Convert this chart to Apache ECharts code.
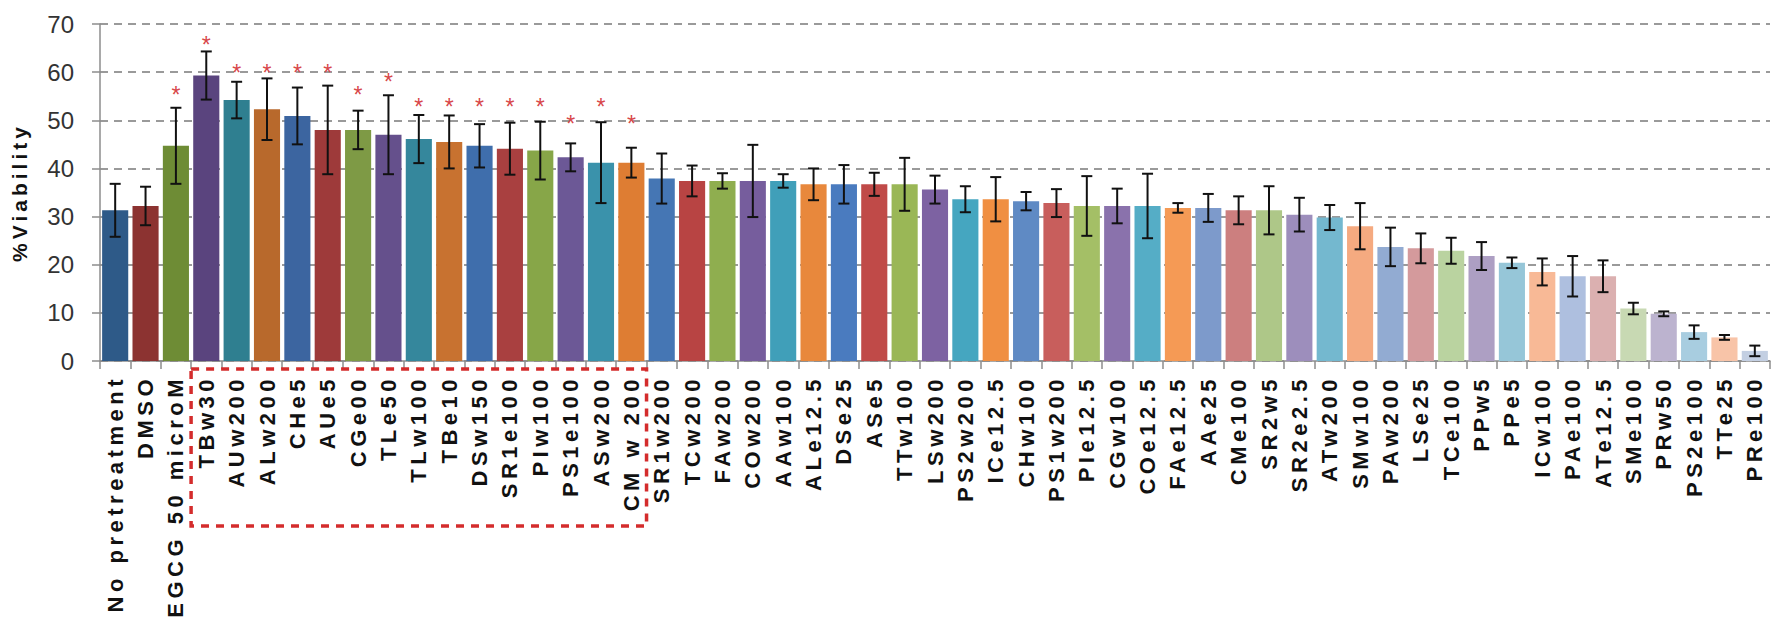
<!DOCTYPE html>
<html>
<head>
<meta charset="UTF-8">
<title>Viability</title>
<script src="https://cdn.jsdelivr.net/npm/echarts@6/dist/echarts.min.js"></script>
<style>
  /* spaced-out bold labels like the original figure */
  #main text[style*="22px"] { letter-spacing: 4.5px; }
  #main text[style*="21px"] { letter-spacing: 4px; }
</style>
</head>
<body style="margin: 0; background: #fff;">
<div id="main" style="width: 1776px; height: 637px;"></div>
<script>
var categories = ['No pretreatment', 'DMSO', 'EGCG 50 microM', 'TBw30', 'AUw200', 'ALw200', 'CHe5', 'AUe5',
  'CGe00', 'TLe50', 'TLw100', 'TBe10', 'DSw150', 'SR1e100', 'PIw100', 'PS1e100', 'ASw200', 'CM w 200',
  'SR1w200', 'TCw200', 'FAw200', 'COw200', 'AAw100', 'ALe12.5', 'DSe25', 'ASe5', 'TTw100', 'LSw200',
  'PS2w200', 'ICe12.5', 'CHw100', 'PS1w200', 'PIe12.5', 'CGw100', 'COe12.5', 'FAe12.5', 'AAe25', 'CMe100',
  'SR2w5', 'SR2e2.5', 'ATw200', 'SMw100', 'PAw200', 'LSe25', 'TCe100', 'PPw5', 'PPe5', 'ICw100', 'PAe100',
  'ATe12.5', 'SMe100', 'PRw50', 'PS2e100', 'TTe25', 'PRe100'];

var viability = [31.3, 32.2, 44.7, 59.3, 54.2, 52.3, 50.9, 48.0, 48.0, 47.0,
  46.1, 45.5, 44.7, 44.1, 43.7, 42.3, 41.2, 41.2, 37.9, 37.4,
  37.4, 37.4, 37.4, 36.7, 36.7, 36.7, 36.7, 35.6, 33.6, 33.6,
  33.2, 32.8, 32.2, 32.2, 32.2, 31.8, 31.8, 31.3, 31.3, 30.4,
  29.8, 28.0, 23.7, 23.4, 22.9, 21.8, 20.4, 18.5, 17.6, 17.6,
  10.9, 9.8, 6.0, 4.9, 2.1];

var errors = [5.5, 4.0, 7.9, 5.0, 3.8, 6.4, 5.9, 9.2, 4.0, 8.2,
  5.0, 5.5, 4.5, 5.4, 6.0, 2.9, 8.4, 3.1, 5.2, 3.2,
  1.6, 7.5, 1.4, 3.3, 4.0, 2.4, 5.5, 2.9, 2.7, 4.6,
  1.9, 2.9, 6.2, 3.6, 6.7, 1.0, 2.9, 2.9, 5.0, 3.5,
  2.6, 4.8, 4.0, 3.1, 2.7, 2.9, 1.1, 2.8, 4.2, 3.3,
  1.2, 0.5, 1.4, 0.5, 1.1];

// height of the significance asterisk, null = none
var stars = [null, null, 56.3, 66.7, 60.8, 60.8, 60.8, 60.8, 56.3, 59.0,
  53.8, 53.8, 53.8, 53.8, 53.8, 50.2, 53.8, 50.2];

var yTicks = [0, 10, 20, 30, 40, 50, 60, 70];

var colors = ['#2e5a88', '#8c3331', '#6e8c35', '#5a447e', '#2f7f90', '#b8692c',
  '#3c65a0', '#9e3a3a', '#7e9a45', '#65508c', '#35879c', '#c87230',
  '#3f6eac', '#a94040', '#87a648', '#6c5896', '#3a92ab', '#de7d33',
  '#4576b4', '#b84443', '#8fae4f', '#765d9d', '#409fb9', '#e8883c',
  '#4a7bbf', '#c04a48', '#9ab756', '#7d62a2', '#45a6c0', '#f08f42',
  '#5f8ac4', '#c85e5c', '#a4bf66', '#8a72ac', '#55adc6', '#f59a55',
  '#7d9acb', '#cc7f7f', '#aec788', '#9d8ebc', '#74b8cf', '#f5aa80',
  '#92abd2', '#d49a9c', '#bad3a0', '#ad9fc3', '#96c6d8', '#f8b996',
  '#aebfdf', '#dbb0b0', '#c8d9b3', '#bcb3cf', '#a8cde0', '#f8c4a8', '#c3cfe2'];

var chart = echarts.init(document.getElementById('main'), null, { renderer: 'svg' });

var errData = viability.map(function (v, i) { return [i, v, errors[i]]; });
var starData = [];
stars.forEach(function (s, i) { if (s != null) starData.push([i, s]); });

chart.setOption({
  animation: false,
  grid: { left: 100, right: 6, top: 24, bottom: 276 },
  xAxis: {
    type: 'category',
    data: categories,
    axisLine: { lineStyle: { color: '#8c8c8c', width: 1.5 } },
    axisTick: { show: true, length: 8, lineStyle: { color: '#8c8c8c', width: 1.5 } },
    axisLabel: {
      interval: 0, rotate: 90, margin: 14,
      fontSize: 22, fontWeight: 'bold', color: '#111',
      fontFamily: 'Liberation Sans, Arial, sans-serif'
    }
  },
  yAxis: {
    type: 'value', min: yTicks[0], max: yTicks[yTicks.length - 1], interval: 10,
    name: '%Viability', nameLocation: 'middle', nameGap: 70,
    nameTextStyle: { fontSize: 21, fontWeight: 'bold', color: '#111', fontFamily: 'Liberation Sans, Arial, sans-serif' },
    axisLine: { show: true, lineStyle: { color: '#8c8c8c', width: 1.5 } },
    axisTick: { show: true, length: 8, lineStyle: { color: '#8c8c8c', width: 1.5 } },
    axisLabel: { margin: 26, fontSize: 24, color: '#333', fontFamily: 'Liberation Sans Narrow, Arial Narrow, Liberation Sans, sans-serif' },
    splitLine: { lineStyle: { color: '#7a7a7a', width: 1.5, type: [8, 6] } }
  },
  series: [
    {
      type: 'bar',
      barCategoryGap: '14%',
      data: viability.map(function (v, i) { return { value: v, itemStyle: { color: colors[i] } }; }),
      z: 2
    },
    {
      type: 'custom',
      data: errData,
      z: 3,
      renderItem: function (params, api) {
        var i = api.value(0), m = api.value(1), e = api.value(2);
        var hi = api.coord([i, m + e]);
        var lo = api.coord([i, m - e]);
        var w = 5.5;
        var st = { stroke: '#111', lineWidth: 2 };
        return {
          type: 'group',
          children: [
            { type: 'line', shape: { x1: hi[0], y1: hi[1], x2: lo[0], y2: lo[1] }, style: st },
            { type: 'line', shape: { x1: hi[0] - w, y1: hi[1], x2: hi[0] + w, y2: hi[1] }, style: st },
            { type: 'line', shape: { x1: lo[0] - w, y1: lo[1], x2: lo[0] + w, y2: lo[1] }, style: st }
          ]
        };
      }
    },
    {
      type: 'custom',
      data: starData,
      z: 4,
      renderItem: function (params, api) {
        var p = api.coord([api.value(0), api.value(1)]);
        return {
          type: 'text',
          x: p[0], y: p[1] + 5,
          style: { text: '*', fill: '#d8474a', font: '23px Liberation Sans, Arial, sans-serif', align: 'center', verticalAlign: 'middle' }
        };
      }
    }
  ]
});

// red dashed box round the significant extracts (TBw30 .. CM w 200)
var c0 = chart.convertToPixel({ xAxisIndex: 0 }, 0);
var c1 = chart.convertToPixel({ xAxisIndex: 0 }, 1);
var bw = c1 - c0;
var x0 = chart.convertToPixel({ xAxisIndex: 0 }, 3) - bw / 2;
var x1 = chart.convertToPixel({ xAxisIndex: 0 }, 17) + bw / 2;
var y0 = chart.convertToPixel({ yAxisIndex: 0 }, 0);
chart.setOption({
  graphic: [{
    type: 'rect', z: 10,
    shape: { x: x0, y: y0 + 8, width: x1 - x0, height: 157 },
    style: { fill: 'none', stroke: '#d42c2c', lineWidth: 3.5, lineDash: [8, 7] }
  }]
});
</script>
</body>
</html>
